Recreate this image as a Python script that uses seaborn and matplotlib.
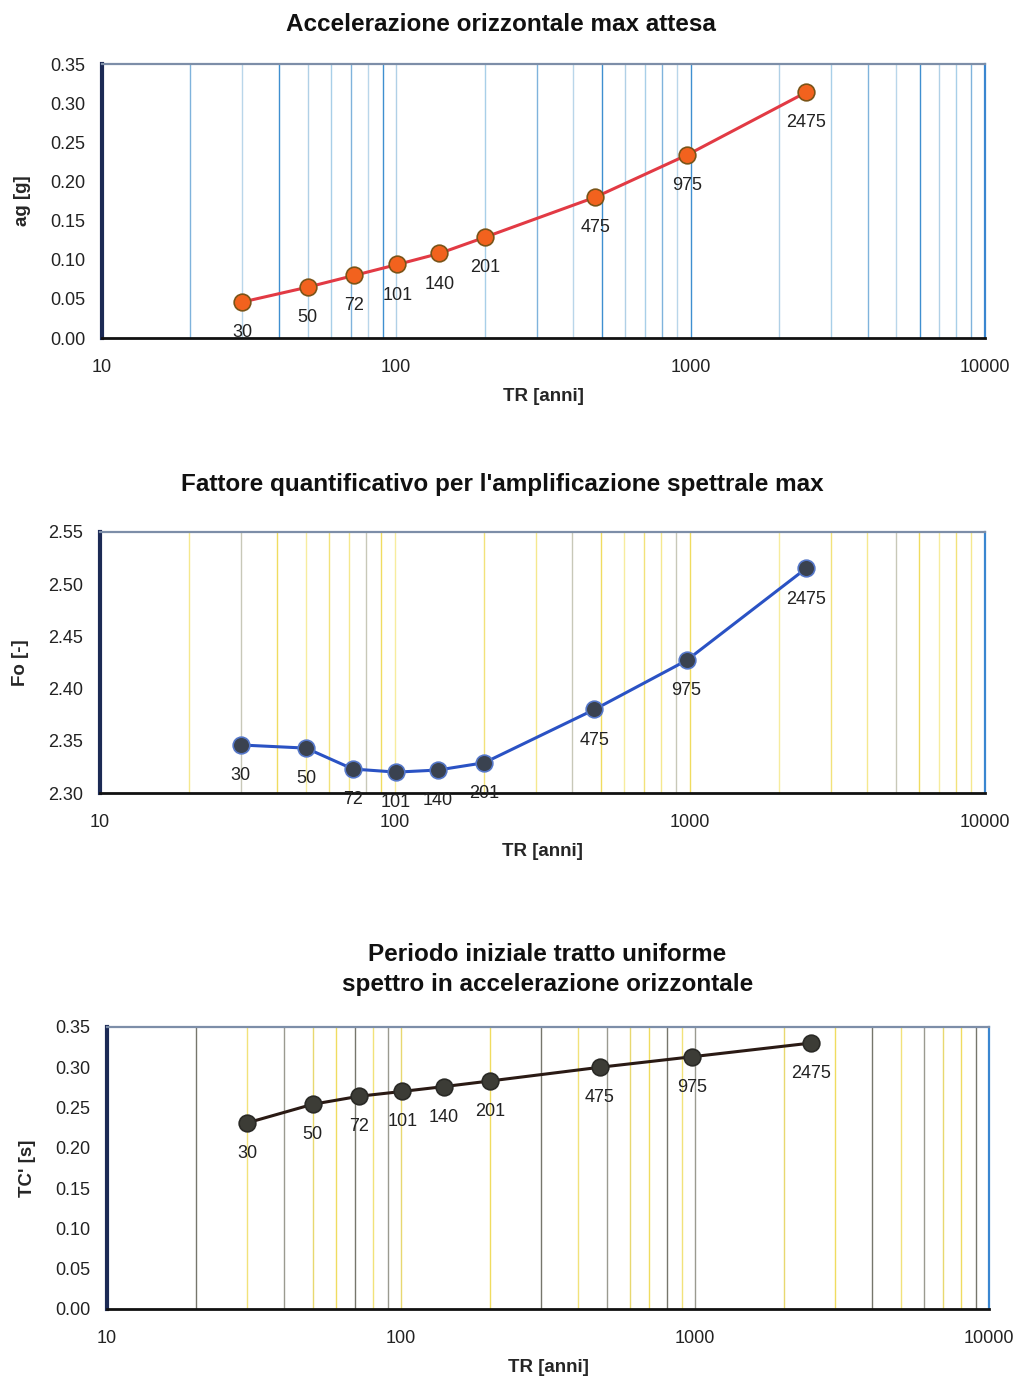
import numpy as np
import pandas as pd
import matplotlib
matplotlib.use("Agg")
import matplotlib.pyplot as plt
import seaborn as sns

# Return periods TR [anni]
tr = [30, 50, 72, 101, 140, 201, 475, 975, 2475]

# Peak ground acceleration ag [g]
ag = [0.046, 0.065, 0.080, 0.094, 0.108, 0.129, 0.180, 0.234, 0.314]

# Spectral amplification factor Fo [-]
fo = [2.346, 2.343, 2.323, 2.320, 2.322, 2.329, 2.380, 2.427, 2.515]

# Start period of constant-acceleration branch TC* [s]
tc = [0.231, 0.254, 0.264, 0.270, 0.276, 0.283, 0.300, 0.313, 0.330]

titles = [
    "Accelerazione orizzontale max attesa",
    "Fattore quantificativo per l'amplificazione spettrale max",
    "Periodo iniziale tratto uniforme\nspettro in accelerazione orizzontale",
]
ylabels = ["ag [g]", "Fo [-]", "TC' [s]"]
xlabel = "TR [anni]"
yticks = [
    [0.00, 0.05, 0.10, 0.15, 0.20, 0.25, 0.30, 0.35],
    [2.30, 2.35, 2.40, 2.45, 2.50, 2.55],
    [0.00, 0.05, 0.10, 0.15, 0.20, 0.25, 0.30, 0.35],
]
xticks = [10, 100, 1000, 10000]

sns.set_style("white")
plt.rcParams["font.family"] = ["Liberation Sans", "DejaVu Sans"]

fig = plt.figure(figsize=(10.19, 13.77), dpi=100)

boxes = [
    [0.100, 0.7545, 0.8665, 0.1990],
    [0.098, 0.4241, 0.8685, 0.1896],
    [0.105, 0.0494, 0.8656, 0.2048],
]

styles = [
    dict(line="#e23a44", face="#f2621e", edge="#7a5418"),
    dict(line="#2a52c4", face="#3a4250", edge="#5577c8"),
    dict(line="#2a1a14", face="#3c3c36", edge="#2a2a26"),
]

grid_colors = [
    ["#a8cfe8", "#7fb3dc", "#b9d6ea", "#3f8fd0", "#b0d0e6"],
    ["#f2e27a", "#f5e88e", "#c8c8b8", "#f0dc60", "#f7ec9e"],
    ["#f0dc60", "#76766c", "#f2e27a", "#9a9a90", "#e8d870"],
]

series = [ag, fo, tc]
ylims = [(0.0, 0.35), (2.30, 2.55), (0.0, 0.35)]
title_y = [0.982, 0.648, 0.296]
title_x = [0.492, 0.493, 0.537]

grid_x = [m * 10 ** e for e in (1, 2, 3) for m in range(1, 10)] + [10000]

for i in range(3):
    ax = fig.add_axes(boxes[i])
    ax.set_xscale("log")
    ax.set_xlim(10, 10000)
    ax.set_ylim(*ylims[i])

    # vertical log grid
    for k, gx in enumerate(grid_x):
        ax.axvline(gx, color=grid_colors[i][k % len(grid_colors[i])],
                   lw=1.0, zorder=0)

    df = pd.DataFrame({"TR": tr, "val": series[i]})
    st = styles[i]
    sns.lineplot(data=df, x="TR", y="val", ax=ax, color=st["line"], lw=2.2,
                 marker="o", markersize=12, markerfacecolor=st["face"],
                 markeredgecolor=st["edge"], markeredgewidth=1.2, zorder=3)

    for x, y in zip(tr, series[i]):
        ax.annotate(str(x), (x, y), xytext=(0, -22), textcoords="offset points",
                    ha="center", va="center", fontsize=13, color="#222222",
                    zorder=4)

    ax.set_xticks(xticks)
    ax.set_xticklabels([str(t) for t in xticks])
    ax.xaxis.set_minor_locator(matplotlib.ticker.NullLocator())
    ax.set_yticks(yticks[i])
    ax.set_yticklabels([f"{t:.2f}" for t in yticks[i]])
    ax.tick_params(axis="y", direction="out", length=6, width=1.3,
                   labelsize=13, pad=6, colors="#222222")
    ax.tick_params(axis="x", direction="out", length=7, width=1.3,
                   labelsize=13, pad=8, colors="#222222")

    ax.set_xlabel(xlabel, fontsize=13.5, fontweight="bold", labelpad=9)
    ax.set_ylabel(ylabels[i], fontsize=13.5, fontweight="bold", labelpad=14)

    ax.spines["left"].set_color("#1c2a55")
    ax.spines["left"].set_linewidth(3.0)
    ax.spines["bottom"].set_color("#111111")
    ax.spines["bottom"].set_linewidth(2.0)
    ax.spines["top"].set_color("#7d8ea8")
    ax.spines["top"].set_linewidth(1.6)
    ax.spines["right"].set_color("#3a86d0")
    ax.spines["right"].set_linewidth(1.6)
    for s in ax.spines.values():
        s.set_visible(True)

    fig.text(title_x[i], title_y[i], titles[i], ha="center", va="center",
             fontsize=17.5, fontweight="bold", color="#111111", linespacing=1.35)

fig.savefig("out.png", dpi=100, facecolor="white")
